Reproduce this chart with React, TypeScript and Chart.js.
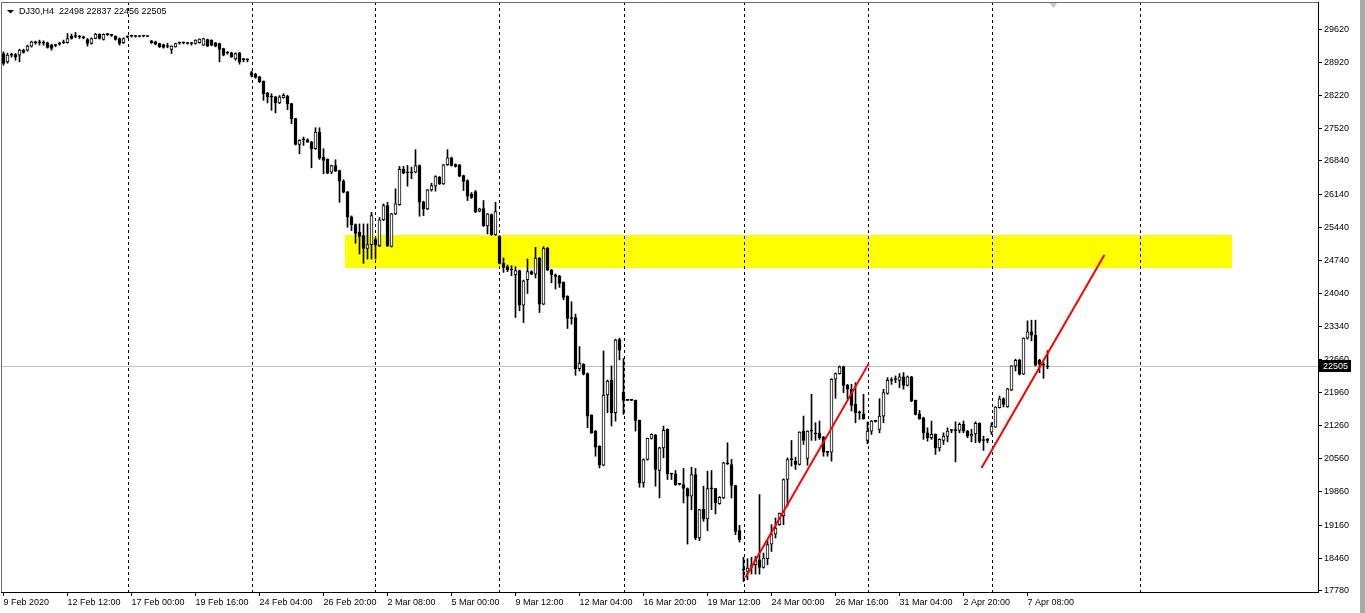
import React, { useEffect, useRef } from "react";
import { Chart, registerables } from "chart.js";

Chart.register(...registerables);

const symbolName = "DJ30,H4";

const opens = [
  29104, 28928, 29069, 29083, 29069, 29174, 29174, 29259, 29330, 29330, 29322, 29330, 29280, 29280, 29301, 29330, 29330, 29470, 29463, 29456,
  29449, 29400, 29315, 29421, 29506, 29400, 29506, 29492, 29470, 29421, 29330, 29449, 29470, 29470, 29463, 29470, 29470, 29372, 29351, 29315,
  29294, 29252, 29189, 29245, 29322, 29330, 29315, 29315, 29315, 29330, 29280, 29400, 29386, 29330, 29315, 29210, 29118, 29118, 28991, 29118,
  28977, 28977, 28702, 28667, 28611, 28519, 28272, 28188, 28188, 28061, 28174, 28202, 28047, 27730, 27187, 27286, 27286, 27236, 27096, 27448,
  26918, 26870, 26602, 26743, 26637, 26412, 26187, 25658, 25496, 25333, 25263, 24995, 25073, 25179, 25052, 25595, 25897, 25037, 25721, 25918,
  26659, 26595, 26595, 26602, 26743, 25976, 25828, 26229, 26306, 26497, 26356, 26757, 26906, 26764, 26757, 26532, 26426, 26137, 26194, 25778,
  25834, 25468, 25707, 25285, 25242, 24678, 24608, 24545, 24439, 24524, 23798, 24333, 24503, 24453, 24792, 23819, 24995, 24538, 24439, 24411,
  24277, 23988, 23523, 23537, 22458, 22551, 22353, 21473, 21141, 20824, 20423, 21903, 22212, 21528, 23072, 21966, 21790, 21790, 21790, 21368,
  20048, 20543, 20987, 21056, 20311, 20789, 21177, 20239, 20239, 20021, 20014, 19930, 19767, 20226, 18886, 19499, 19288, 19930, 19930, 19613,
  19731, 20465, 20437, 19993, 19042, 18209, 18182, 18266, 18323, 18429, 18266, 18450, 18759, 18970, 19169, 19359, 20120, 20543, 20507, 20437,
  21141, 20564, 21141, 21084, 21099, 21014, 20697, 20697, 22234, 22353, 22494, 22107, 22023, 21706, 21528, 21507, 20945, 21141, 21346, 21177,
  21458, 21938, 22212, 22234, 22212, 22283, 22107, 22283, 21790, 21507, 21422, 21105, 21000, 21071, 20789, 20945, 21029, 21156, 21156, 21156,
  21283, 21141, 21036, 21084, 21304, 20945, 20945, 21120, 21226, 21634, 21824, 21649, 22002, 22515, 22636, 22339, 23101, 23234, 23164, 22636,
  22537, 22498,
];

const highs = [
  29139, 29111, 29111, 29104, 29196, 29196, 29280, 29365, 29365, 29386, 29372, 29344, 29301, 29301, 29344, 29386, 29527, 29513, 29548, 29485,
  29470, 29421, 29435, 29527, 29520, 29520, 29527, 29506, 29477, 29435, 29435, 29477, 29492, 29485, 29477, 29477, 29477, 29379, 29365, 29322,
  29301, 29322, 29266, 29322, 29344, 29344, 29337, 29337, 29393, 29414, 29428, 29407, 29393, 29337, 29322, 29217, 29146, 29132, 29118, 29125,
  28998, 28991, 28730, 28688, 28625, 28526, 28286, 28258, 28202, 28216, 28258, 28223, 28054, 27737, 27286, 27342, 27307, 27250, 27539, 27539,
  27096, 26884, 26750, 26863, 26644, 26441, 26194, 25679, 25510, 25510, 25510, 25510, 25756, 25221, 25644, 25933, 25967, 25735, 26250, 26722,
  26722, 26743, 26708, 27075, 26757, 25989, 26236, 26369, 26526, 26511, 26764, 27075, 26918, 26778, 26764, 26539, 26441, 26172, 26215, 25841,
  26003, 25729, 25721, 25967, 25263, 24792, 24643, 24629, 24608, 24538, 24326, 24770, 24524, 25016, 24806, 25030, 25016, 24552, 24453, 24425,
  24291, 23995, 23868, 23608, 22923, 22564, 22367, 21487, 21155, 20831, 22832, 22220, 22514, 23079, 23100, 22670, 21795, 21795, 21797, 21374,
  20556, 20993, 21084, 21071, 20803, 21247, 21190, 20253, 20310, 20035, 20353, 19943, 20380, 20353, 19492, 19979, 20296, 20310, 19936, 19760,
  20486, 20894, 20543, 20000, 19154, 18478, 18450, 18478, 18499, 19803, 18569, 18831, 19169, 19309, 19415, 20133, 20577, 20944, 20592, 21127,
  21458, 21148, 21917, 21317, 21352, 21029, 20712, 22247, 22367, 22514, 22514, 22128, 22128, 22162, 21564, 21917, 21338, 21367, 21367, 21824,
  22023, 22268, 22268, 22304, 22353, 22374, 22304, 22297, 21797, 21579, 21437, 21211, 21352, 21084, 20979, 21105, 21211, 21177, 21338, 21317,
  21352, 21156, 21177, 21338, 21317, 21036, 20987, 21317, 21655, 21881, 21845, 22044, 22522, 22657, 22657, 23107, 23467, 23481, 23481, 22657,
  22585, 22837,
];

const lows = [
  28857, 28900, 29027, 28963, 28928, 29111, 29153, 29238, 29301, 29280, 29280, 29217, 29174, 29245, 29280, 29315, 29322, 29407, 29435, 29421,
  29414, 29259, 29301, 29414, 29407, 29386, 29485, 29463, 29386, 29280, 29315, 29435, 29449, 29449, 29456, 29456, 29456, 29315, 29287, 29231,
  29217, 29224, 29104, 29238, 29301, 29308, 29301, 29280, 29301, 29322, 29273, 29252, 29266, 29245, 28928, 29055, 29090, 29020, 28963, 28879,
  28928, 28928, 28611, 28582, 28491, 28117, 28061, 27906, 27850, 28047, 28160, 27920, 27624, 27173, 26990, 27166, 27229, 26694, 27081, 26870,
  26567, 26567, 26567, 26616, 25967, 26166, 25439, 25369, 25100, 24876, 24678, 24770, 24770, 24770, 25030, 25580, 25030, 25023, 25707, 25904,
  26567, 26306, 26462, 26588, 25672, 25686, 25813, 26201, 26201, 26342, 26342, 26743, 26729, 26708, 26504, 26215, 26003, 26046, 25749, 25764,
  25454, 25299, 25270, 25270, 24665, 24488, 24503, 24418, 23537, 23678, 23431, 24044, 24439, 24368, 23642, 23805, 24524, 24270, 24136, 24171,
  23910, 23304, 23396, 22318, 22409, 22325, 21211, 21092, 20612, 20365, 20408, 21528, 21247, 21352, 22642, 21494, 21785, 21785, 21141, 19957,
  19957, 20528, 20972, 19978, 19731, 20577, 20120, 20120, 19996, 20006, 19626, 18759, 19486, 18852, 18831, 19239, 19042, 19486, 19393, 19598,
  19718, 20437, 19731, 18957, 18801, 17970, 18006, 18125, 18125, 18125, 18252, 18323, 18604, 18886, 19154, 19169, 19556, 20401, 20332, 20423,
  20860, 20423, 20945, 20945, 20966, 20612, 20612, 20507, 21832, 22340, 21951, 21824, 21564, 21317, 21389, 21389, 20873, 21071, 21331, 21105,
  21317, 21917, 22128, 22162, 22057, 22023, 22093, 21761, 21480, 21389, 20966, 20930, 20966, 20649, 20718, 20860, 20915, 21105, 20492, 21105,
  21105, 21000, 20915, 20894, 20894, 20733, 20894, 21071, 21219, 21627, 21649, 21642, 21993, 22409, 22325, 22332, 23080, 23044, 22515, 22374,
  22255, 22456,
];

const closes = [
  28893, 29069, 29076, 29034, 29174, 29125, 29259, 29351, 29337, 29328, 29333, 29231, 29210, 29273, 29315, 29351, 29421, 29421, 29470, 29452,
  29435, 29315, 29421, 29513, 29421, 29506, 29502, 29485, 29400, 29315, 29421, 29456, 29468, 29463, 29470, 29468, 29463, 29330, 29301, 29245,
  29231, 29259, 29259, 29315, 29330, 29328, 29318, 29322, 29386, 29407, 29421, 29259, 29280, 29259, 29189, 29069, 29115, 29034, 29104, 28928,
  28975, 28970, 28646, 28597, 28505, 28258, 28188, 28185, 28061, 28188, 28223, 28047, 27730, 27187, 27272, 27283, 27236, 27096, 27448, 26897,
  26849, 26580, 26743, 26623, 26412, 26180, 25650, 25496, 25312, 25249, 24995, 25073, 25686, 25073, 25595, 25897, 25052, 25721, 25932, 26659,
  26580, 26590, 26588, 26743, 25967, 25828, 26229, 26321, 26511, 26356, 26757, 26906, 26743, 26722, 26518, 26405, 26095, 26067, 25771, 25828,
  25475, 25721, 25285, 25771, 24678, 24594, 24538, 24538, 24524, 23798, 24312, 24503, 24453, 24792, 23819, 24995, 24538, 24439, 24404, 24255,
  23959, 23515, 23515, 22458, 22572, 22339, 21458, 21105, 20803, 20423, 21903, 22198, 21528, 23065, 22846, 21790, 21790, 21790, 21368, 20048,
  20543, 20987, 21071, 20332, 20789, 21156, 20239, 20235, 20014, 20018, 19930, 19767, 20226, 18886, 19486, 19288, 19930, 19925, 19626, 19746,
  20471, 20450, 19993, 19027, 18852, 18217, 18252, 18323, 18429, 18266, 18464, 18746, 18957, 19097, 19413, 20120, 20543, 20540, 20437, 21120,
  20945, 21141, 21138, 21080, 21000, 20697, 20693, 22234, 22353, 22494, 22107, 22023, 21685, 21528, 21525, 21401, 21141, 21352, 21349, 21458,
  21951, 22212, 22208, 22230, 22283, 22107, 22283, 21775, 21494, 21401, 21105, 21000, 21071, 20789, 20966, 21036, 21141, 21153, 21150, 21283,
  21141, 21036, 21071, 21304, 20924, 20942, 20948, 21247, 21649, 21824, 21706, 22035, 22515, 22636, 22339, 23101, 23234, 23164, 22530, 22551,
  22530, 22505,
];

const timeTickBars = [0, 16, 32, 48, 64, 80, 96, 112, 128, 144, 160, 176, 192, 208, 224, 240, 256];
const timeTickLabels = [
  "9 Feb 2020", "12 Feb 12:00", "17 Feb 00:00", "19 Feb 16:00", "24 Feb 04:00", "26 Feb 20:00",
  "2 Mar 08:00", "5 Mar 00:00", "9 Mar 12:00", "12 Mar 04:00", "16 Mar 20:00", "19 Mar 12:00",
  "24 Mar 00:00", "26 Mar 16:00", "31 Mar 04:00", "2 Apr 20:00", "7 Apr 08:00",
];
const priceTicks = [
  29620, 28920, 28220, 27520, 26840, 26140, 25440, 24740, 24040, 23340, 22660, 21960, 21260, 20560, 19860, 19160, 18460, 17780,
];
const separatorBars = [31, 62, 93, 124, 155, 185, 216, 247, 284];
const zoneBars = [85.25, 307];
const zonePrices = [25285, 24587];
const trendLine1 = [
  { x: 185.5, y: 18055 },
  { x: 216.3, y: 22564 },
];
const trendLine2 = [
  { x: 244.5, y: 20365 },
  { x: 275.25, y: 24862 },
];

const FONT_FAMILY = '"Liberation Sans", Arial, sans-serif';
const FONT = `9px ${FONT_FAMILY}`;

export default function App() {
  const ref = useRef<HTMLCanvasElement>(null);

  useEffect(() => {
    const canvas = ref.current;
    if (!canvas) return;
    const last = closes.length - 1;
    const bodies = opens.map((o, i) => ({ x: i, y: [o, closes[i]] }));
    const wicks = lows.map((l, i) => ({ x: i, y: [l, highs[i]] }));
    const bodyColors = opens.map((o, i) => (closes[i] - o > 30 ? "#ffffff" : "#000000"));

    const decor = {
      id: "mt4decor",
      beforeDraw(chart: any) {
        const { ctx } = chart;
        ctx.save();
        ctx.fillStyle = "#ffffff";
        ctx.fillRect(0, 0, chart.width, chart.height);
        ctx.restore();
      },
      beforeDatasetsDraw(chart: any) {
        const { ctx, chartArea: a } = chart;
        const xs = chart.scales.x;
        const ys = chart.scales.y;
        ctx.save();
        const zx1 = Math.round(xs.getPixelForValue(zoneBars[0]));
        const zx2 = Math.round(xs.getPixelForValue(zoneBars[1]));
        const zy1 = Math.round(ys.getPixelForValue(zonePrices[0]));
        const zy2 = Math.round(ys.getPixelForValue(zonePrices[1]));
        ctx.fillStyle = "#ffff00";
        ctx.fillRect(zx1, zy1, zx2 - zx1, zy2 - zy1);

        const py = Math.round(ys.getPixelForValue(closes[last])) + 0.5;
        ctx.strokeStyle = "#c0c0c0";
        ctx.lineWidth = 1;
        ctx.beginPath();
        ctx.moveTo(a.left, py);
        ctx.lineTo(a.right, py);
        ctx.stroke();

        ctx.setLineDash([3, 3]);
        separatorBars.forEach((b) => {
          const px = Math.round(xs.getPixelForValue(b)) + 0.5;
          if (px > a.right) return;
          ctx.strokeStyle = "#000000";
          ctx.beginPath();
          ctx.moveTo(px, a.top);
          ctx.lineTo(px, a.bottom);
          ctx.stroke();
          ctx.save();
          ctx.beginPath();
          ctx.rect(zx1, zy1, zx2 - zx1, zy2 - zy1);
          ctx.clip();
          ctx.strokeStyle = "#0000ff";
          ctx.beginPath();
          ctx.moveTo(px, a.top);
          ctx.lineTo(px, a.bottom);
          ctx.stroke();
          ctx.restore();
        });
        ctx.restore();
      },
      afterDraw(chart: any) {
        const { ctx, chartArea: a } = chart;
        const xs = chart.scales.x;
        const ys = chart.scales.y;
        ctx.save();
        ctx.strokeStyle = "#6e6e6e";
        ctx.lineWidth = 1;
        ctx.beginPath();
        ctx.moveTo(1.5, a.bottom);
        ctx.lineTo(1.5, 2.5);
        ctx.lineTo(a.right, 2.5);
        ctx.stroke();

        ctx.fillStyle = "#a9a9a9";
        ctx.fillRect(1360, 0, 5, chart.height);

        const sx = xs.getPixelForValue(last + 1.5);
        ctx.fillStyle = "#c8c8c8";
        ctx.beginPath();
        ctx.moveTo(sx - 4, 3);
        ctx.lineTo(sx + 4, 3);
        ctx.lineTo(sx, 8);
        ctx.closePath();
        ctx.fill();

        ctx.fillStyle = "#000000";
        ctx.beginPath();
        ctx.moveTo(7, 10);
        ctx.lineTo(14, 10);
        ctx.lineTo(10.5, 13.5);
        ctx.closePath();
        ctx.fill();
        ctx.font = FONT;
        ctx.textBaseline = "middle";
        ctx.textAlign = "left";
        ctx.fillStyle = "#000000";
        ctx.fillText(
          `${symbolName}  ${opens[last]} ${highs[last]} ${lows[last]} ${closes[last]}`,
          19,
          12
        );

        const py = Math.round(ys.getPixelForValue(closes[last]));
        ctx.fillStyle = "#000000";
        ctx.fillRect(a.right + 1, py - 6, 32, 12);
        ctx.fillStyle = "#ffffff";
        ctx.font = FONT;
        ctx.textBaseline = "middle";
        ctx.fillText(String(closes[last]), a.right + 5, py + 0.5);
        ctx.restore();
      },
    };

    const chart = new Chart(canvas, {
      type: "bar",
      data: {
        datasets: [
          {
            type: "line",
            data: trendLine1,
            borderColor: "#ff0000",
            borderWidth: 2,
            pointRadius: 0,
            tension: 0,
          },
          {
            type: "line",
            data: trendLine2,
            borderColor: "#ff0000",
            borderWidth: 2,
            pointRadius: 0,
            tension: 0,
          },
          {
            type: "bar",
            data: bodies as any,
            backgroundColor: bodyColors,
            borderColor: "#000000",
            borderWidth: 1,
            borderSkipped: false,
            barThickness: 3,
            minBarLength: 1,
            grouped: false,
          } as any,
          {
            type: "bar",
            data: wicks as any,
            backgroundColor: "#000000",
            borderWidth: 0,
            barThickness: 1,
            minBarLength: 1,
            grouped: false,
          } as any,
        ],
      },
      options: {
        responsive: false,
        animation: false,
        devicePixelRatio: 1,
        events: [],
        layout: { padding: { left: 1, top: 2, right: 0, bottom: 0 } },
        plugins: {
          legend: { display: false },
          tooltip: { enabled: false },
          title: { display: false },
        },
        scales: {
          x: {
            type: "linear",
            position: "bottom",
            offset: false,
            bounds: "ticks",
            min: -0.625,
            max: 328.625,
            afterBuildTicks: (s: any) => {
              s.ticks = timeTickBars.map((v) => ({ value: v }));
            },
            afterFit: (s: any) => {
              s.height = 21;
              s.paddingLeft = 0;
              s.paddingRight = 0;
            },
            grid: {
              offset: false,
              drawOnChartArea: false,
              drawTicks: true,
              tickLength: 4,
              tickColor: "#000000",
              tickWidth: 1,
            },
            border: { display: true, color: "#000000", width: 1 },
            ticks: {
              autoSkip: false,
              maxRotation: 0,
              minRotation: 0,
              align: "start",
              padding: 1,
              color: "#000000",
              font: { family: FONT_FAMILY, size: 9 },
              callback: (_v: any, i: number) => timeTickLabels[i],
            },
          },
          y: {
            type: "linear",
            position: "right",
            min: 17748,
            max: 30190,
            afterBuildTicks: (s: any) => {
              s.ticks = priceTicks.map((v) => ({ value: v }));
            },
            afterFit: (s: any) => {
              s.width = 47;
              s.paddingTop = 0;
              s.paddingBottom = 0;
            },
            grid: {
              drawOnChartArea: false,
              drawTicks: true,
              tickLength: 4,
              tickColor: "#000000",
              tickWidth: 1,
            },
            border: { display: true, color: "#000000", width: 1 },
            ticks: {
              autoSkip: false,
              padding: 2,
              color: "#000000",
              font: { family: FONT_FAMILY, size: 9 },
              callback: (v: any) => String(v),
            },
          },
        },
      } as any,
      plugins: [decor],
    });

    return () => chart.destroy();
  }, []);

  return (
    <div
      style={{
        position: "fixed",
        left: 0,
        top: 0,
        width: 1365,
        height: 613,
        background: "#ffffff",
      }}
    >
      <canvas ref={ref} width={1365} height={613} style={{ display: "block" }} />
    </div>
  );
}
